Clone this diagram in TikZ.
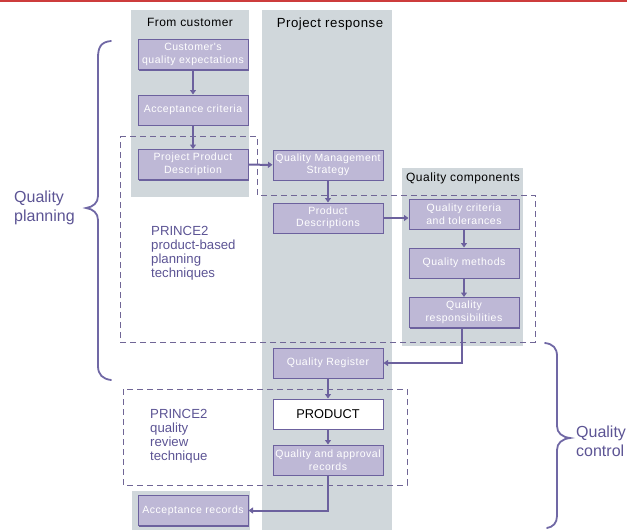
\documentclass[tikz,border=0pt]{standalone}
\usepackage{fontspec}
\setmainfont{Liberation Sans}
\newfontfamily\boxfont[LetterSpace=5]{Liberation Sans}
\newfontfamily\headfont[LetterSpace=4]{Liberation Sans}
\usetikzlibrary{arrows.meta,shadows}

\definecolor{bgGray}{RGB}{208,215,219}
\definecolor{boxFill}{RGB}{190,184,214}
\definecolor{boxLine}{RGB}{108,97,158}
\definecolor{dashCol}{RGB}{112,102,150}
\definecolor{braceCol}{RGB}{112,104,165}
\definecolor{labelCol}{RGB}{92,84,148}
\definecolor{topRed}{RGB}{205,60,60}

\begin{document}
\begin{tikzpicture}[x=1pt,y=-1pt,
    prodbox/.style={draw=boxLine, line width=1pt, fill=boxFill,
        minimum width=110pt, minimum height=30pt, inner sep=1pt,
        text width=108pt, align=center, text=white,
        font=\boxfont\fontsize{10.5}{12.5}\selectfont,
        drop shadow={shadow xshift=1.3pt, shadow yshift=-1.3pt, fill=boxLine, opacity=1}},
    flow/.style={draw=boxLine, line width=2pt, -{Triangle[length=4.5pt,width=6pt]}},
    region/.style={draw=dashCol, line width=0.9pt, dash pattern=on 6pt off 4pt},
    brace/.style={draw=braceCol, line width=1.8pt, line cap=round},
    header/.style={font=\headfont\fontsize{12}{14}\selectfont, text=black, inner sep=0pt},
    sidelabel/.style={font=\fontsize{16}{19}\selectfont, text=labelCol, align=left, inner sep=0pt},
    technique/.style={font=\fontsize{13.2}{14}\selectfont, text=labelCol, align=left, inner sep=0pt}]
    \useasboundingbox (0,0) rectangle (627,530);

    % Red rule along the top
    \fill[topRed] (0,0) rectangle (627,1.5);

    % Grey columns
    \fill[bgGray] (131,10) rectangle (249,197); % from customer
    \fill[bgGray] (262,10) rectangle (392,530); % project response
    \fill[bgGray] (402,168) rectangle (523,346); % quality components
    \fill[bgGray] (132,491) rectangle (250,530); % acceptance records

    % Column headings
    \node[header] (hcust) at (190,22) {From customer};
    \node[header, font=\headfont\fontsize{13.2}{15}\selectfont] (hresp) at (330,24) {Project response};
    \node[header] (hcomp) at (463,178) {Quality components};

    % Dashed regions
    \draw[region] (120,136) -- (257,136) -- (257,195) -- (535,195)
        -- (535,342) -- (120,342) -- cycle;
    \draw[region] (123,389) rectangle (407,485);

    % From customer
    \node[prodbox] (cqe) at (193,54.5) {Customer's\\quality expectations};
    \node[prodbox] (acc) at (193,110) {Acceptance criteria};
    \node[prodbox] (ppd) at (193,164.5) {Project Product\\Description};

    % Project response
    \node[prodbox] (qms) at (328,165) {Quality Management\\Strategy};
    \node[prodbox] (pd) at (328,218) {Product\\Descriptions};
    \node[prodbox] (qreg) at (328,363) {Quality Register};
    \node[prodbox, fill=white, text=black,
        font=\fontsize{12.8}{14}\selectfont] (prod) at (328,414) {PRODUCT};
    \node[prodbox] (qar) at (328,460) {Quality and approval\\records};

    % Quality components
    \node[prodbox] (qct) at (464,214) {Quality criteria\\and tolerances};
    \node[prodbox] (qm) at (464,263) {Quality methods};
    \node[prodbox] (qresp) at (464,312.5) {Quality\\responsibilities};

    % Acceptance
    \node[prodbox] (accrec) at (193,510.5) {Acceptance records};

    % Flows
    \draw[flow] (cqe) -- (acc);
    \draw[flow] (acc) -- (ppd);
    \draw[flow] (ppd) -- (qms);
    \draw[flow] (qms) -- (pd);
    \draw[flow] (pd.east |- 0,218) -- (qct.west |- 0,218);
    \draw[flow] (qct) -- (qm);
    \draw[flow] (qm) -- (qresp);
    \draw[flow] ([xshift=-2pt]qresp.south) |- (qreg.east);
    \draw[flow] (qreg) -- (prod);
    \draw[flow] (prod) -- (qar);
    \draw[flow] (qar.south) |- (accrec.east);

    % Technique notes
    \node[technique, anchor=north west] (pbp) at (151,226)
        {PRINCE2\\product-based\\planning\\techniques};
    \node[technique, anchor=north west] (qrt) at (150,409)
        {PRINCE2\\quality\\review\\technique};

    % Quality planning brace
    \draw[brace] (111,41) .. controls (101,42) and (98,47) .. (98,58)
        -- (98,196) .. controls (98,203) and (93,207) .. (86,208)
        .. controls (93,209) and (98,213) .. (98,220)
        -- (98,366) .. controls (98,375) and (103,379) .. (111,380);
    \node[sidelabel, anchor=west] (qplan) at (14,208) {Quality\\planning};

    % Quality control brace
    \draw[brace] (545,343) .. controls (553,344) and (557,348) .. (557,356)
        -- (557,426) .. controls (557,433) and (562,437) .. (570,438)
        .. controls (562,439) and (557,443) .. (557,450)
        -- (557,516) .. controls (557,523) and (553,527) .. (547,528);
    \node[sidelabel, anchor=west] (qctrl) at (576,441) {Quality\\control};
\end{tikzpicture}
\end{document}
